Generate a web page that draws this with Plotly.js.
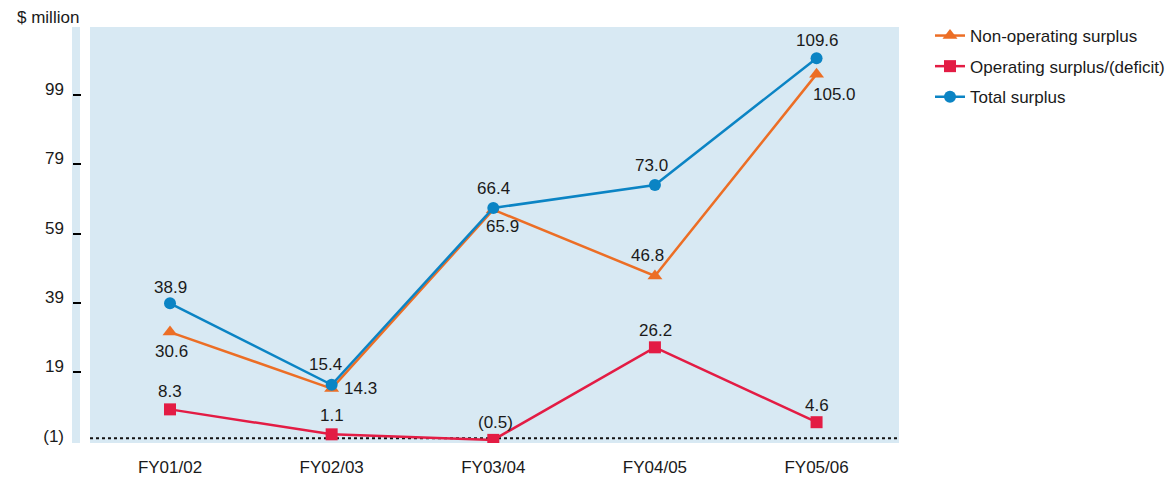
<!DOCTYPE html>
<html>
<head>
<meta charset="utf-8">
<script src="https://cdn.plot.ly/plotly-3.0.1.min.js"></script>
<style>html,body{margin:0;padding:0;background:#fff;}#chart{width:1173px;height:479px;}</style>
</head>
<body>
<div id="chart"></div>
<script>
// ---- data ----
const categories = ["FY01/02", "FY02/03", "FY03/04", "FY04/05", "FY05/06"];
const nonOperating = [30.6, 14.3, 65.9, 46.8, 105.0];
const operating = [8.3, 1.1, -0.5, 26.2, 4.6];
const total = [38.9, 15.4, 66.4, 73.0, 109.6];
const yTickVals = [-1, 19, 39, 59, 79, 99];
const yTickText = ["(1)", "19", "39", "59", "79", "99"];
const seriesNames = ["Non-operating surplus", "Operating surplus/(deficit)", "Total surplus"];

// ---- styles ----
const FONT = "Liberation Sans, Arial, Helvetica, sans-serif";
const TXT = "#1a1a1a";
const BG = "#d8e9f3";
const colors = {non: "#ec6e25", op: "#e31c44", tot: "#0b84c4"};
const L = 72, R = 274, T = 27, B = 36, W = 1173, H = 479;
const plotW = W - L - R;
const plotH = H - T - B;
const domStart = 18 / plotW;

// label offsets (pixels) per series, per point
const offNon = [[1,-19],[29,0],[9,-17],[-7,20],[18,-20]];
const offOp  = [[0,18],[0,19],[2,17],[1,17],[0,17]];
const offTot = [[0,16],[-6,20],[0,19],[-3,20],[1,18]];

function fmt(v){ return v < 0 ? "(" + Math.abs(v).toFixed(1) + ")" : v.toFixed(1); }

const idx = categories.map((c,i)=>i);

function trace(name, vals, color, symbol, size, group){
  return {
    type: "scatter", mode: "lines+markers", name: name,
    x: idx, y: vals, legendgroup: group,
    line: {color: color, width: 2.5},
    marker: {color: color, symbol: symbol, size: size},
    hoverinfo: "skip"
  };
}

const traces = [
  trace(seriesNames[0], nonOperating, colors.non, "triangle-up", 13, "a"),
  trace(seriesNames[1], operating, colors.op, "square", 12, "b"),
  trace(seriesNames[2], total, colors.tot, "circle", 12, "c")
];

// invisible trace for the tick-mark axis
traces.push({type:"scatter", x:[0], y:[0], yaxis:"y2", mode:"none", showlegend:false, hoverinfo:"skip"});

const annotations = [];
function addLabels(vals, offs){
  vals.forEach((v,i)=>{
    annotations.push({x: idx[i], y: v, xref:"x", yref:"y", text: fmt(v), showarrow:false,
      xshift: offs[i][0], yshift: offs[i][1], font:{family:FONT, size:17, color:TXT}});
  });
}
addLabels(nonOperating, offNon);
addLabels(operating, offOp);
addLabels(total, offTot);

annotations.push({xref:"paper", yref:"paper", x:(15 - L)/plotW, y:1 + (T - 17)/plotH,
  xanchor:"left", yanchor:"middle", text:"$ million", showarrow:false,
  font:{family:FONT, size:17, color:TXT}});

const yRange = [-1.4, 118.6];

const layout = {
  width: W, height: H,
  margin: {l: L, r: R, t: T, b: B, pad: 0, autoexpand: false},
  paper_bgcolor: "#ffffff",
  plot_bgcolor: BG,
  font: {family: FONT, size: 17, color: TXT},
  showlegend: true,
  legend: {
    x: (930 - L)/plotW, xanchor: "left",
    y: 1 + (T - 18)/plotH, yanchor: "top",
    font: {family: FONT, size: 17, color: TXT},
    bgcolor: "rgba(0,0,0,0)", borderwidth: 0,
    traceorder: "grouped", tracegroupgap: 5.5
  },
  xaxis: {
    domain: [domStart, 1],
    range: [-0.495, 4.51],
    tickvals: idx, ticktext: categories,
    showgrid: false, zeroline: false, showline: false, ticks: "",
    ticklabelstandoff: 12,
    tickfont: {family: FONT, size: 17, color: TXT},
    fixedrange: true
  },
  yaxis: {
    anchor: "free", position: 0,
    range: yRange,
    tickvals: yTickVals, ticktext: yTickText,
    ticks: "", showgrid: false, zeroline: false, showline: false,
    ticklabelshift: -6, ticklabelstandoff: 8,
    tickfont: {family: FONT, size: 17, color: TXT},
    fixedrange: true
  },
  yaxis2: {
    overlaying: "y", anchor: "free", position: 0, side: "left",
    range: yRange,
    tickvals: yTickVals.slice(1),
    ticks: "inside", ticklen: 8, tickwidth: 2, tickcolor: "#000",
    showticklabels: false, showgrid: false, zeroline: false, showline: false,
    fixedrange: true
  },
  shapes: [
    {type:"rect", xref:"paper", yref:"paper", x0:0, x1:8/plotW, y0:0, y1:1,
     fillcolor: BG, line:{width:0}, layer:"below"},
    {type:"line", xref:"paper", yref:"y", x0:domStart, x1:1, y0:0, y1:0,
     line:{color:"#111", width:2, dash:"dot"}, layer:"below"}
  ],
  annotations: annotations
};

Plotly.newPlot("chart", traces, layout, {displayModeBar:false, staticPlot:true});
</script>
</body>
</html>
